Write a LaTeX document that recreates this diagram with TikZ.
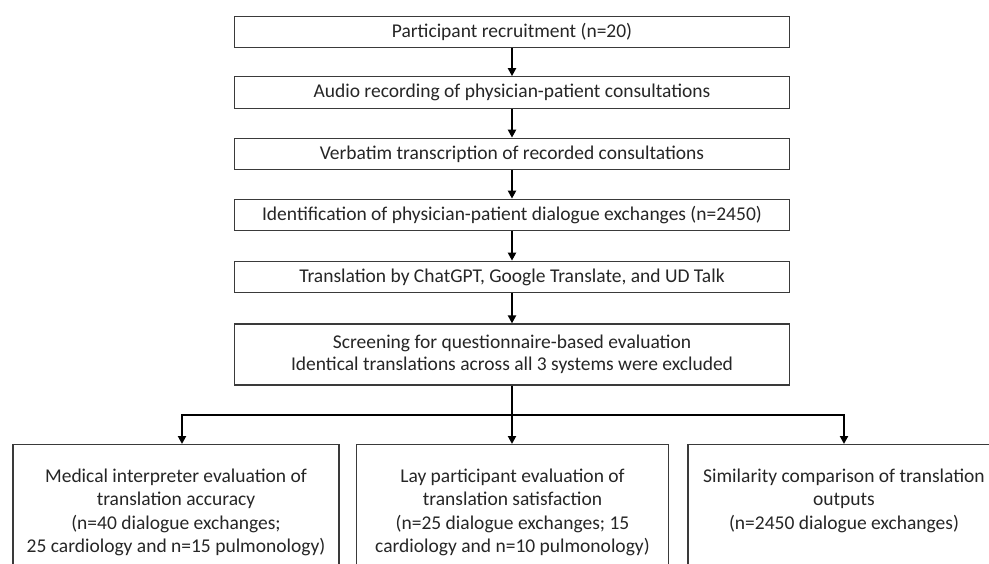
\documentclass[tikz,border=0pt]{standalone}
\usepackage{fontspec}
\setmainfont{Carlito}
\usetikzlibrary{arrows.meta}
\definecolor{boxline}{HTML}{3A3A3A}
\definecolor{txt}{HTML}{262626}
\begin{document}
\begin{tikzpicture}[x=1pt,y=-1pt,
  mainbox/.style={draw=boxline, line width=1.2pt, minimum width=555pt, minimum height=31.5pt,
    inner sep=0pt, text=txt, font=\fontsize{19.5}{22.5}\selectfont, align=center},
  botbox/.style={draw=boxline, line width=1.2pt, anchor=north, inner xsep=0pt, inner ysep=24pt,
    text depth=90pt, text=txt, font=\fontsize{19.5}{23.5}\selectfont, align=center},
  arr/.style={-{Triangle[length=8pt,width=8pt]}, line width=2pt, black},
]
\clip (0,0) rectangle (989,563);
\fill[white] (0,0) rectangle (989,563);

\node[mainbox] (b1) at (512,32) {Participant recruitment (n=20)};
\node[mainbox] (b2) at (512,92.5) {Audio recording of physician-patient consultations};
\node[mainbox] (b3) at (512,154) {Verbatim transcription of recorded consultations};
\node[mainbox] (b4) at (512,215) {Identification of physician-patient dialogue exchanges (n=2450)};
\node[mainbox] (b5) at (512,277) {Translation by ChatGPT, Google Translate, and UD Talk};
\node[mainbox, minimum height=61pt] (b6) at (512,354.5) {Screening for questionnaire-based evaluation\\Identical translations across all 3 systems were excluded};

\node[botbox, minimum width=326pt] (c1) at (176,444) {Medical interpreter evaluation of\\translation accuracy\\(n=40 dialogue exchanges;\\25 cardiology and n=15 pulmonology)};
\node[botbox, minimum width=312pt] (c2) at (512.5,444) {Lay participant evaluation of\\translation satisfaction\\(n=25 dialogue exchanges; 15\\cardiology and n=10 pulmonology)};
\node[botbox, minimum width=312pt] (c3) at (844,444) {Similarity comparison of translation\\outputs\\(n=2450 dialogue exchanges)};

\coordinate (hub) at (512,415);

\draw[arr] (b1) -- (b2);
\draw[arr] (b2) -- (b3);
\draw[arr] (b3) -- (b4);
\draw[arr] (b4) -- (b5);
\draw[arr] (b5) -- (b6);
\draw[arr] (b6.south) -- (b6.south |- c2.north);
\draw[arr] (hub) -| ([xshift=6pt]c1.north);
\draw[arr] (hub) -| (c3.north);
\end{tikzpicture}
\end{document}
